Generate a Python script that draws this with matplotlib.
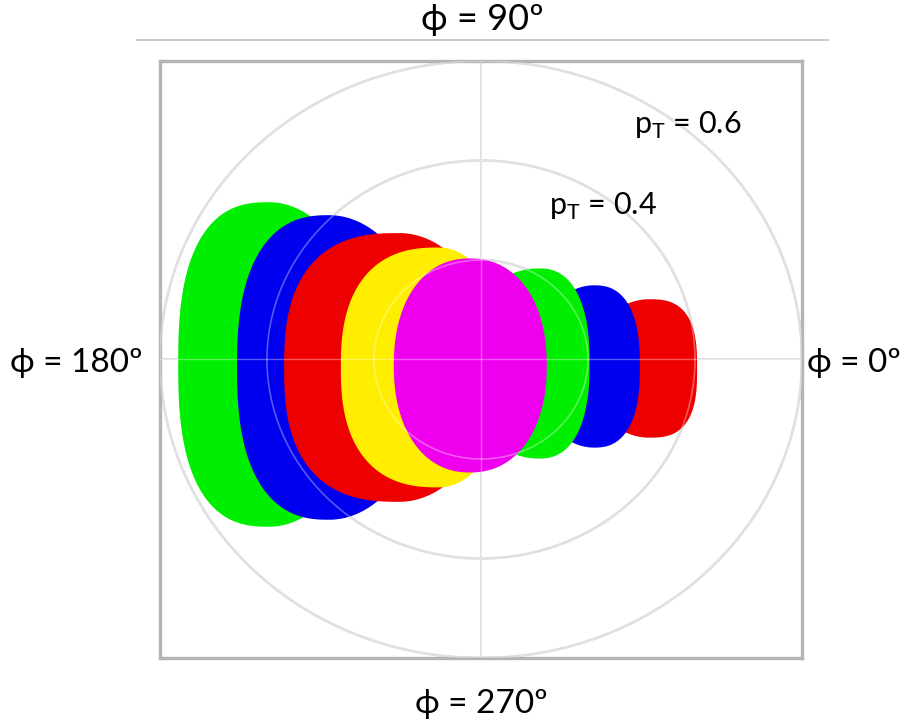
import numpy as np
import matplotlib
matplotlib.use("Agg")
import matplotlib.pyplot as plt
from matplotlib.lines import Line2D

plt.rcParams['font.family'] = ['Lato', 'DejaVu Sans']

# blob regions in the (px, py) plane, in pT units
blob_names = ["green L", "blue L", "red L", "yellow", "red R", "blue R", "green R", "magenta"]
blob_cx = [-0.396, -0.284, -0.153, -0.079, 0.314, 0.211, 0.108, -0.021]
blob_cy = [-0.010, -0.016, -0.016, -0.016, -0.018, -0.014, -0.008, -0.012]
blob_wl = [0.168, 0.170, 0.213, 0.181, 0.112, 0.112, 0.150, 0.140]   # half width, left side
blob_wr = [0.187, 0.187, 0.178, 0.131, 0.088, 0.084, 0.093, 0.142]   # half width, right side
blob_h = [0.324, 0.304, 0.268, 0.239, 0.137, 0.161, 0.189, 0.213]
blob_nl = [2.6, 2.5, 2.6, 2.5, 2.0, 2.0, 2.0, 2.2]
blob_nr = [2.0, 2.0, 2.0, 2.0, 2.8, 2.5, 2.4, 2.2]
blob_colors = ["#00ee00", "#0000ee", "#ee0000", "#ffee00", "#ee0000", "#0000ee", "#00ee00", "#ee00ee"]

ring_pt = [0.2, 0.4, 0.6]
ring_labels = ["", "p$_\\mathregular{T}$ = 0.4", "p$_\\mathregular{T}$ = 0.6"]

fig = plt.figure(figsize=(9.05, 7.26), dpi=100)
ax = fig.add_axes([160 / 905, 68 / 726, 642 / 905, 597 / 726])
ax.set_xlim(-0.6, 0.6)
ax.set_ylim(-0.6, 0.6)
ax.set_xticks([])
ax.set_yticks([])
for s in ax.spines.values():
    s.set_color("#b4b4b4")
    s.set_linewidth(2.4)

t = np.linspace(0, 2 * np.pi, 600)
phi = np.linspace(0, 2 * np.pi, 400)

# grid below the blobs
for r in ring_pt:
    ax.plot(r * np.cos(phi), r * np.sin(phi), color="#d4d4d4", lw=1.8, zorder=1)
ax.axhline(0, color="#d8d8d8", lw=1.2, zorder=1)
ax.axvline(0, color="#d8d8d8", lw=1.2, zorder=1)

for i in range(len(blob_names)):
    c = np.cos(t)
    s = np.sin(t)
    left = c < 0
    n = np.where(left, blob_nl[i], blob_nr[i])
    w = np.where(left, blob_wl[i], blob_wr[i])
    x = blob_cx[i] + w * np.sign(c) * np.abs(c) ** (2.0 / n)
    y = blob_cy[i] + blob_h[i] * np.sign(s) * np.abs(s) ** (2.0 / n)
    ax.fill(x, y, color=blob_colors[i], lw=1.5, ec=blob_colors[i], zorder=2 + i * 0.01)

# faint grid showing through the blobs
for r in ring_pt:
    ax.plot(r * np.cos(phi), r * np.sin(phi), color="white", lw=1.2, alpha=0.35, zorder=3)
ax.axhline(0, color="white", lw=1.0, alpha=0.35, zorder=3)
ax.axvline(0, color="white", lw=1.0, alpha=0.35, zorder=3)

ax.text(0.286, 0.471, ring_labels[2], fontsize=22, ha="left", va="center")
ax.text(0.127, 0.308, ring_labels[1], fontsize=22, ha="left", va="center")

# separator line at top
fig.add_artist(Line2D([137 / 905, 828 / 905], [1 - 40 / 726, 1 - 40 / 726], color="#c0c0c0", lw=1.2))

lab = dict(fontsize=24, ha="center", va="center")
fig.text(482 / 905, 1 - 20 / 726, "ϕ = 90º", fontsize=26, ha="center", va="center")
fig.text(76 / 905, 1 - 363 / 726, "ϕ = 180º", **lab)
fig.text(854 / 905, 1 - 363 / 726, "ϕ = 0º", **lab)
fig.text(481 / 905, 1 - 704 / 726, "ϕ = 270º", **lab)

fig.savefig("out.png", dpi=100)
